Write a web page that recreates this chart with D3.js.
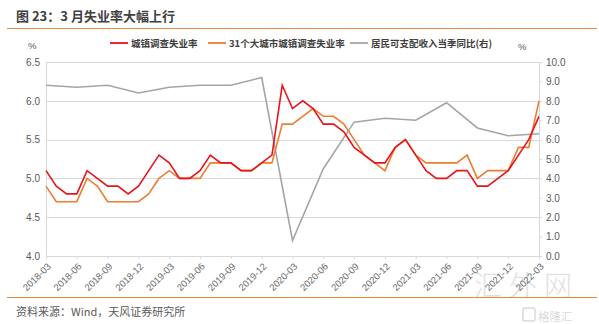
<!DOCTYPE html>
<html>
<head>
<meta charset="utf-8">
<script src="https://cdn.jsdelivr.net/npm/d3@7"></script>
<style>
  html, body { margin: 0; padding: 0; background: #fff; }
  svg { display: block; }
</style>
</head>
<body>
<svg id="chart" width="599" height="324"></svg>
<script>
// Monthly periods, 2018-03 .. 2022-03
const months = [
  "2018-03","2018-04","2018-05","2018-06","2018-07","2018-08","2018-09","2018-10","2018-11","2018-12",
  "2019-01","2019-02","2019-03","2019-04","2019-05","2019-06","2019-07","2019-08","2019-09","2019-10","2019-11","2019-12",
  "2020-01","2020-02","2020-03","2020-04","2020-05","2020-06","2020-07","2020-08","2020-09","2020-10","2020-11","2020-12",
  "2021-01","2021-02","2021-03","2021-04","2021-05","2021-06","2021-07","2021-08","2021-09","2021-10","2021-11","2021-12",
  "2022-01","2022-02","2022-03"
];

// 城镇调查失业率 (%)
const urbanRate = [
  5.1,4.9,4.8,4.8,5.1,5.0,4.9,4.9,4.8,4.9,
  5.1,5.3,5.2,5.0,5.0,5.1,5.3,5.2,5.2,5.1,5.1,5.2,
  5.3,6.2,5.9,6.0,5.9,5.7,5.7,5.6,5.4,5.3,5.2,5.2,
  5.4,5.5,5.3,5.1,5.0,5.0,5.1,5.1,4.9,4.9,5.0,5.1,
  5.3,5.5,5.8
];

// 31个大城市城镇调查失业率 (%)
const cityRate = [
  4.9,4.7,4.7,4.7,5.0,4.9,4.7,4.7,4.7,4.7,
  4.8,5.0,5.1,5.0,5.0,5.0,5.2,5.2,5.2,5.1,5.1,5.2,
  5.2,5.7,5.7,5.8,5.9,5.8,5.8,5.7,5.5,5.3,5.2,5.1,
  5.4,5.5,5.3,5.2,5.2,5.2,5.2,5.3,5.0,5.1,5.1,5.1,
  5.4,5.4,6.0
];

// 居民可支配收入当季同比 (%), quarterly
const incomeMonths = ["2018-03","2018-06","2018-09","2018-12","2019-03","2019-06","2019-09","2019-12",
  "2020-03","2020-06","2020-09","2020-12","2021-03","2021-06","2021-09","2021-12","2022-03"];
const incomeYoY = [8.8,8.7,8.8,8.4,8.7,8.8,8.8,9.2,0.8,4.5,6.9,7.1,7.0,7.9,6.6,6.2,6.3];

const leftTicks = [4.0,4.5,5.0,5.5,6.0,6.5];
const rightTicks = [0,1,2,3,4,5,6,7,8,9,10];
const xTickLabels = months.filter((m, i) => i % 3 === 0);

const seriesNames = ["城镇调查失业率", "31个大城市城镇调查失业率", "居民可支配收入当季同比(右)"];
const colors = ["#E8141B", "#ED7D31", "#A5A5A5"];

const svg = d3.select("#chart");
const numFont = "'Liberation Sans', Arial, sans-serif";
const cjkFont = "'Noto Sans CJK SC', 'Noto Sans', sans-serif";

const plot = { left: 46, right: 539, top: 62, bottom: 256 };

const x = d3.scalePoint().domain(months).range([plot.left, plot.right]);
const yL = d3.scaleLinear().domain([4.0, 6.5]).range([plot.bottom, plot.top]);
const yR = d3.scaleLinear().domain([0, 10]).range([plot.bottom, plot.top]);

// Watermark (drawn first so it sits underneath)
svg.append("text").attr("x", 474).attr("y", 296)
  .attr("font-family", cjkFont).attr("font-size", 28).attr("font-weight", 300)
  .attr("fill", "#d2d2d2").attr("fill-opacity", 0.7).attr("letter-spacing", 7).text("汇外网");
svg.append("text").attr("x", 538).attr("y", 321)
  .attr("font-family", cjkFont).attr("font-size", 11.5)
  .attr("fill", "#cfcfcf").attr("fill-opacity", 0.8).text("格隆汇");
svg.append("rect").attr("x", 523).attr("y", 308).attr("width", 12).attr("height", 13).attr("rx", 2)
  .attr("fill", "none").attr("stroke", "#cfcfcf").attr("stroke-opacity", 0.8).attr("stroke-width", 1.5);

// Title and rules
svg.append("text").attr("x", 16).attr("y", 21)
  .attr("font-family", cjkFont).attr("font-size", 13).attr("font-weight", 700)
  .attr("fill", "#404040").text("图 23：3 月失业率大幅上行");
svg.append("line").attr("x1", 7).attr("x2", 597).attr("y1", 28.5).attr("y2", 28.5)
  .attr("stroke", "#E5893B").attr("stroke-width", 1.2);
svg.append("line").attr("x1", 7).attr("x2", 597).attr("y1", 297.5).attr("y2", 297.5)
  .attr("stroke", "#E5893B").attr("stroke-width", 1.2);
svg.append("text").attr("x", 16).attr("y", 316)
  .attr("font-family", cjkFont).attr("font-size", 11)
  .attr("fill", "#595959").text("资料来源：Wind，天风证券研究所");

// Gridlines
svg.append("g").selectAll("line").data(leftTicks.slice(1)).join("line")
  .attr("x1", plot.left).attr("x2", plot.right)
  .attr("y1", d => Math.round(yL(d)) + 0.5).attr("y2", d => Math.round(yL(d)) + 0.5)
  .attr("stroke", "#D9D9D9").attr("stroke-width", 1);

// Left axis
const gL = svg.append("g").attr("transform", `translate(${plot.left},0)`)
  .call(d3.axisLeft(yL).tickValues(leftTicks).tickFormat(d3.format(".1f")).tickSize(0).tickPadding(6));
gL.select(".domain").attr("stroke", "#D9D9D9");
gL.selectAll("text").attr("font-family", numFont).attr("font-size", 10).attr("fill", "#595959");

// Right axis
const gR = svg.append("g").attr("transform", `translate(${plot.right},0)`)
  .call(d3.axisRight(yR).tickValues(rightTicks).tickFormat(d3.format(".1f")).tickSize(3).tickPadding(4));
gR.select(".domain").attr("stroke", "#D9D9D9");
gR.selectAll(".tick line").attr("stroke", "#D9D9D9");
gR.selectAll("text").attr("font-family", numFont).attr("font-size", 10).attr("fill", "#595959");

// Bottom axis
const gX = svg.append("g").attr("transform", `translate(0,${plot.bottom})`)
  .call(d3.axisBottom(x).tickValues(xTickLabels).tickSize(3).tickPadding(4));
gX.select(".domain").attr("stroke", "#D9D9D9");
gX.selectAll(".tick line").attr("stroke", "#D9D9D9");
gX.selectAll("text")
  .attr("font-family", numFont).attr("font-size", 9.5).attr("fill", "#6a6a6a")
  .attr("text-anchor", "end").attr("dy", 0)
  .attr("transform", "translate(0,6) rotate(-45)");

// Unit labels
svg.append("text").attr("x", 28).attr("y", 49).attr("font-family", numFont)
  .attr("font-size", 9.5).attr("fill", "#595959").text("%");
svg.append("text").attr("x", 518).attr("y", 50).attr("font-family", numFont)
  .attr("font-size", 9.5).attr("fill", "#595959").text("%");

// Series lines
const lineL = d3.line().x(d => x(d[0])).y(d => yL(d[1]));
const lineR = d3.line().x(d => x(d[0])).y(d => yR(d[1]));

svg.append("path").datum(incomeMonths.map((m, i) => [m, incomeYoY[i]]))
  .attr("d", lineR).attr("fill", "none").attr("stroke", colors[2]).attr("stroke-width", 1.6);
svg.append("path").datum(months.map((m, i) => [m, cityRate[i]]))
  .attr("d", lineL).attr("fill", "none").attr("stroke", colors[1]).attr("stroke-width", 1.6);
svg.append("path").datum(months.map((m, i) => [m, urbanRate[i]]))
  .attr("d", lineL).attr("fill", "none").attr("stroke", colors[0]).attr("stroke-width", 1.6);

// Legend
const legendX = [110, 208, 350];
const lg = svg.append("g").selectAll("g").data(seriesNames).join("g")
  .attr("transform", (d, i) => `translate(${legendX[i]},43)`);
lg.append("line").attr("x1", 0).attr("x2", 18).attr("y1", 0).attr("y2", 0)
  .attr("stroke", (d, i) => colors[i]).attr("stroke-width", 1.8);
lg.append("text").attr("x", 21).attr("y", 3.5)
  .attr("font-family", cjkFont).attr("font-size", 9.5).attr("font-weight", 700)
  .attr("fill", "#404040").text(d => d);
</script>
</body>
</html>
